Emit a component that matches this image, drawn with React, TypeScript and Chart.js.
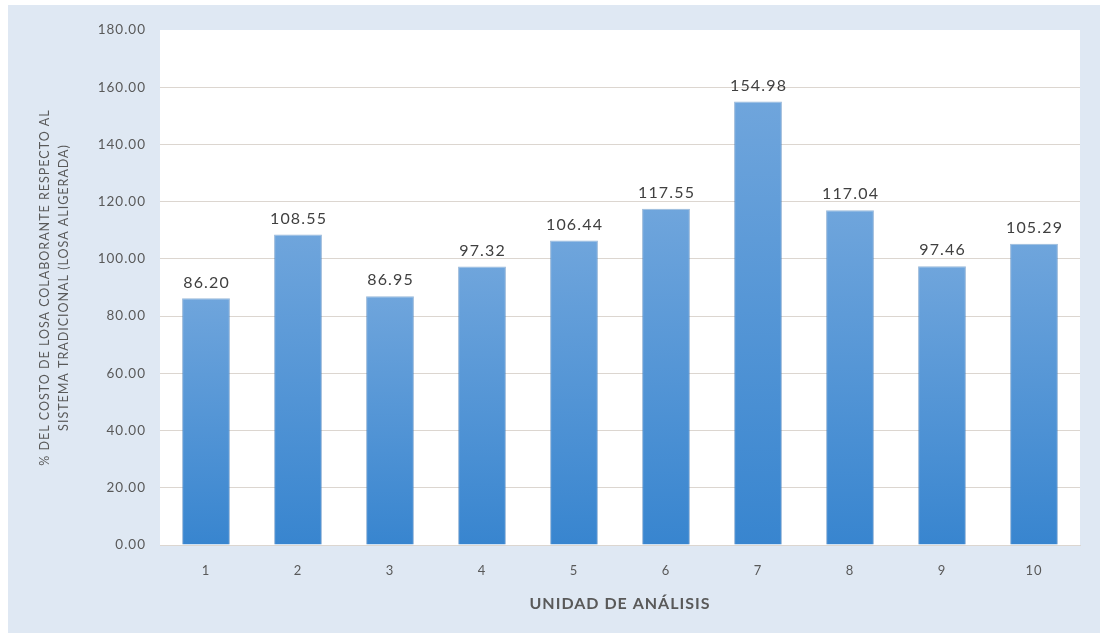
import React, { useEffect, useRef } from "react";
import { Chart, registerables } from "chart.js";

Chart.register(...registerables);

const categories = ["1", "2", "3", "4", "5", "6", "7", "8", "9", "10"];
const costPercent = [86.2, 108.55, 86.95, 97.32, 106.44, 117.55, 154.98, 117.04, 97.46, 105.29];
const yTitleLines = [
  "% DEL COSTO DE LOSA COLABORANTE RESPECTO AL",
  "SISTEMA TRADICIONAL (LOSA ALIGERADA)",
];
const xTitle = "UNIDAD DE ANÁLISIS";

const FONT = "Lato, 'Open Sans', sans-serif";

// Page background, light blue chart frame and white plot area;
// also sets a slightly wider letter spacing for all axis text.
const framePlugin = {
  id: "frame",
  beforeDraw(chart: any) {
    const { ctx, chartArea, width, height } = chart;
    ctx.save();
    ctx.fillStyle = "#ffffff";
    ctx.fillRect(0, 0, width, height);
    ctx.fillStyle = "#dfe8f3";
    ctx.fillRect(8, 5, width - 8, height - 5);
    ctx.fillStyle = "#ffffff";
    ctx.fillRect(chartArea.left, chartArea.top, chartArea.right - chartArea.left, chartArea.bottom - chartArea.top);
    ctx.restore();
    ctx.letterSpacing = "1px";
  },
  afterDraw(chart: any) {
    chart.ctx.letterSpacing = "0px";
  },
};

// Value labels above each bar
const valueLabelPlugin = {
  id: "valueLabels",
  afterDatasetsDraw(chart: any) {
    const { ctx } = chart;
    const meta = chart.getDatasetMeta(0);
    ctx.save();
    ctx.letterSpacing = "1.2px";
    ctx.font = `16px ${FONT}`;
    ctx.fillStyle = "#404040";
    ctx.textAlign = "center";
    ctx.textBaseline = "bottom";
    meta.data.forEach((bar: any, i: number) => {
      ctx.fillText(costPercent[i].toFixed(2), bar.x + 0.6, bar.y - 8);
    });
    ctx.restore();
  },
};

export default function App() {
  const canvasRef = useRef<HTMLCanvasElement>(null);

  useEffect(() => {
    const canvas = canvasRef.current;
    if (!canvas) return;
    const chart = new Chart(canvas, {
      type: "bar",
      data: {
        labels: categories,
        datasets: [
          {
            data: costPercent,
            backgroundColor: (c: any) => {
              const ch = c.chart;
              const y = ch.scales?.y;
              if (!y || !ch.chartArea || c.raw == null) return "#5b9bd5";
              const top = y.getPixelForValue(c.raw);
              const bottom = y.getPixelForValue(0);
              const g = ch.ctx.createLinearGradient(0, top, 0, bottom);
              g.addColorStop(0, "#6fa5dc");
              g.addColorStop(1, "#3885cf");
              return g;
            },
            borderColor: "rgba(70,125,185,0.55)",
            borderWidth: 1,
            borderSkipped: "bottom",
            barPercentage: 0.52,
            categoryPercentage: 1,
          },
        ],
      },
      plugins: [framePlugin, valueLabelPlugin],
      options: {
        animation: false,
        responsive: false,
        maintainAspectRatio: false,
        layout: { padding: { top: 30, right: 20, left: 0, bottom: 0 } },
        plugins: {
          legend: { display: false },
          tooltip: { enabled: false },
        },
        scales: {
          x: {
            grid: { display: false, drawTicks: false },
            border: { display: true, color: "#dcd6d0", width: 1 },
            ticks: {
              color: "#595959",
              font: { family: FONT, size: 13 },
              padding: 18,
            },
            title: {
              display: true,
              text: xTitle,
              color: "#595959",
              font: { family: FONT, size: 16, weight: "bold" },
              padding: { top: 0, bottom: 20 },
            },
            afterFit: (scale: any) => {
              scale.height = 88;
            },
          },
          y: {
            min: 0,
            max: 180,
            ticks: {
              stepSize: 20,
              color: "#595959",
              font: { family: FONT, size: 13.5 },
              padding: 14,
              callback: (v: any) => Number(v).toFixed(2),
            },
            grid: {
              drawTicks: false,
              color: (c: any) => (c.tick && c.tick.value === 180 ? "rgba(0,0,0,0)" : "#dcd6d0"),
              lineWidth: 1,
            },
            border: { display: false },
            title: {
              display: true,
              text: yTitleLines,
              color: "#595959",
              font: { family: FONT, size: 12.5, lineHeight: 1.55 },
              padding: { top: 35, bottom: 0 },
            },
            afterFit: (scale: any) => {
              scale.width = 160;
            },
          },
        },
      },
    } as any);
    return () => chart.destroy();
  }, []);

  return (
    <div style={{ position: "absolute", left: 0, top: 0, width: 1100, height: 633 }}>
      <canvas ref={canvasRef} width={1100} height={633} style={{ display: "block" }} />
    </div>
  );
}
